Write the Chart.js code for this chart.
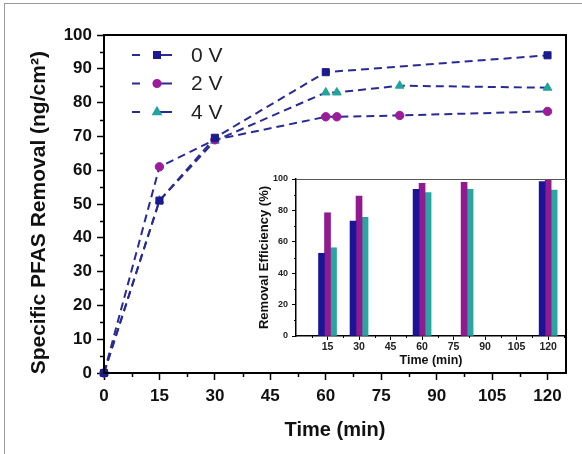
<!DOCTYPE html>
<html>
<head>
<meta charset="utf-8">
<script src="https://cdn.jsdelivr.net/npm/chart.js@4"></script>
<style>
  html, body { margin: 0; padding: 0; background: #fff; }
  #wrap { position: relative; width: 582px; height: 454px; overflow: hidden; }
  #edge { position: absolute; left: 4px; top: 3px; width: 600px; height: 460px;
          border-left: 1px solid #9a9a9a; border-top: 1px solid #9a9a9a; }
  #main { position: absolute; left: 0; top: 0; }
  #inset { position: absolute; left: 250px; top: 165px; }
</style>
</head>
<body>
<div id="wrap">
  <div id="edge"></div>
  <canvas id="main" width="582" height="454"></canvas>
  <canvas id="inset" width="318" height="207"></canvas>
</div>
<script>
// ---- Specific PFAS removal (ng/cm²) versus time (min) ----
const times0V = [0, 15, 30, 60, 120];
const removal0V = [0, 51, 69.6, 89, 94];
const times2V = [0, 15, 30, 60, 63, 80, 120];
const removal2V = [0, 61, 69, 75.8, 75.8, 76.2, 77.4];
const times4V = [0, 15, 30, 60, 63, 80, 120];
const removal4V = [0, 51, 68.7, 83, 83, 85, 84.4];
const seriesLabels = ['0 V', '2 V', '4 V'];

const xTickValues = [0, 15, 30, 45, 60, 75, 90, 105, 120];
const xMinorValues = [7.5, 22.5, 37.5, 52.5, 67.5, 82.5, 97.5, 112.5];
const yTickValues = [0, 10, 20, 30, 40, 50, 60, 70, 80, 90, 100];
const yMinorValues = [5, 15, 25, 35, 45, 55, 65, 75, 85, 95];

// ---- Removal efficiency (%) inset ----
const effTimes = [15, 30, 60, 80, 120];
const eff0V = [52.7, 73.2, 93.4, null, 98.3];
const eff2V = [78.5, 89.2, 97.2, 97.9, 99.8];
const eff4V = [56.2, 75.6, 91.3, 93.4, 93];
const insetXTickValues = [15, 30, 45, 60, 75, 90, 105, 120];
const insetXMinorValues = [7.5, 22.5, 37.5, 52.5, 67.5, 82.5, 97.5, 112.5, 127.5];
const insetYTickValues = [0, 20, 40, 60, 80, 100];
const insetYMinorValues = [10, 30, 50, 70, 90];

const LINE = '#2a2a94';
const NAVY = '#1b1b8e';
const PURPLE = '#9c1c9a';
const TEAL = '#22a49e';
const FONT = '"Liberation Sans", Arial, sans-serif';

const pts = (xs, ys) => xs.map((x, i) => ({ x, y: ys[i] }));
const fixedTicks = values => scale => { scale.ticks = values.map(v => ({ value: v })); };

// small unlabelled ticks between the major ones
const minorTicks = {
  id: 'minorTicks',
  afterDraw(chart, args, opts) {
    const { ctx, scales: { x, y } } = chart;
    ctx.save();
    ctx.strokeStyle = '#000';
    ctx.lineWidth = opts.width;
    ctx.beginPath();
    (opts.x || []).forEach(v => {
      const px = Math.round(x.getPixelForValue(v)) + 0.5;
      ctx.moveTo(px, x.top); ctx.lineTo(px, x.top + opts.length);
    });
    (opts.y || []).forEach(v => {
      const py = Math.round(y.getPixelForValue(v)) + 0.5;
      ctx.moveTo(y.right, py); ctx.lineTo(y.right - opts.length, py);
    });
    ctx.stroke();
    ctx.restore();
  }
};

// closed frame around the plotting area
const frame = {
  id: 'frame',
  afterDraw(chart, args, opts) {
    const { ctx, chartArea: a } = chart;
    ctx.save();
    ctx.lineWidth = opts.width;
    if (opts.box) {
      ctx.strokeStyle = '#000';
      ctx.strokeRect(a.left, a.top, a.right - a.left, a.bottom - a.top);
    } else {
      ctx.strokeStyle = opts.topColor;
      ctx.beginPath();
      ctx.moveTo(a.left, a.top + 0.5); ctx.lineTo(a.right, a.top + 0.5);
      ctx.stroke();
    }
    ctx.restore();
  }
};

// legend entries: dash, marker, dash, label
const lineLegend = {
  id: 'lineLegend',
  afterDraw(chart, args, opts) {
    const { ctx, chartArea: a } = chart;
    ctx.save();
    chart.data.datasets.forEach((ds, i) => {
      const y = a.top + opts.top + i * opts.rowGap;
      const x0 = a.left + opts.left;
      ctx.strokeStyle = ds.borderColor;
      ctx.lineWidth = 2;
      ctx.setLineDash([]);
      ctx.beginPath();
      ctx.moveTo(x0, y); ctx.lineTo(x0 + 8, y);
      ctx.moveTo(x0 + 28, y); ctx.lineTo(x0 + 40, y);
      ctx.stroke();
      ctx.fillStyle = ds.pointBackgroundColor;
      ctx.strokeStyle = ds.pointBackgroundColor;
      Chart.helpers.drawPoint(ctx, {
        pointStyle: ds.pointStyle, radius: ds.pointRadius * 0.85, rotation: 0, borderWidth: 1
      }, x0 + 25, y);
      ctx.fillStyle = '#222';
      ctx.font = '21px ' + FONT;
      ctx.textBaseline = 'middle';
      ctx.fillText(ds.label, x0 + 59, y + 1);
    });
    ctx.restore();
  }
};

const mainChart = new Chart(document.getElementById('main'), {
  type: 'line',
  data: {
    datasets: [
      { label: seriesLabels[0], data: pts(times0V, removal0V), pointStyle: 'rect', pointRadius: 5,
        pointBackgroundColor: NAVY, pointBorderColor: NAVY },
      { label: seriesLabels[1], data: pts(times2V, removal2V), pointStyle: 'circle', pointRadius: 4.2,
        pointBackgroundColor: PURPLE, pointBorderColor: PURPLE },
      { label: seriesLabels[2], data: pts(times4V, removal4V), pointStyle: 'triangle', pointRadius: 5,
        pointBackgroundColor: TEAL, pointBorderColor: TEAL }
    ].map(d => Object.assign({
      borderColor: LINE, borderWidth: 2, borderDash: [8, 5], tension: 0, fill: false,
      pointBorderWidth: 1, clip: 6
    }, d))
  },
  options: {
    responsive: false,
    animation: false,
    devicePixelRatio: 1,
    layout: { padding: { left: 0, top: 35, right: 16, bottom: 0 } },
    plugins: {
      legend: { display: false },
      tooltip: { enabled: false },
      minorTicks: { x: xMinorValues, y: yMinorValues, length: 4, width: 1.5 },
      frame: { box: true, width: 2 },
      lineLegend: { left: 28, top: 20, rowGap: 28.5 }
    },
    scales: {
      x: {
        type: 'linear', min: 0, max: 125,
        afterBuildTicks: fixedTicks(xTickValues),
        afterFit: s => { s.height = 81; },
        grid: { drawOnChartArea: false, tickLength: 7, tickColor: '#000', tickWidth: 1.5 },
        border: { color: '#000', width: 2 },
        ticks: { color: '#111', padding: 6, maxRotation: 0, autoSkip: false,
                 font: { family: FONT, size: 17, weight: 'bold' } },
        title: { display: true, text: 'Time (min)', color: '#111',
                 font: { family: FONT, size: 20, weight: 'bold' }, padding: { top: 0, bottom: 12 } }
      },
      y: {
        type: 'linear', min: 0, max: 100,
        afterBuildTicks: fixedTicks(yTickValues),
        afterFit: s => { s.width = 104; },
        grid: { drawOnChartArea: false, tickLength: 7, tickColor: '#000', tickWidth: 1.5 },
        border: { color: '#000', width: 2 },
        ticks: { color: '#111', padding: 5, autoSkip: false,
                 font: { family: FONT, size: 17, weight: 'bold' } },
        title: { display: true, text: 'Specific PFAS Removal (ng/cm²)\u00a0\u00a0\u00a0', color: '#111',
                 font: { family: FONT, size: 21, weight: 'bold' }, padding: { top: 27, bottom: 0 } }
      }
    }
  },
  plugins: [minorTicks, frame, lineLegend]
});

const insetChart = new Chart(document.getElementById('inset'), {
  type: 'bar',
  data: {
    datasets: [
      { label: seriesLabels[0], data: pts(effTimes, eff0V), backgroundColor: '#1c1497' },
      { label: seriesLabels[1], data: pts(effTimes, eff2V), backgroundColor: '#921a90' },
      { label: seriesLabels[2], data: pts(effTimes, eff4V), backgroundColor: '#2aa6a2' }
    ].map(d => Object.assign({ barThickness: 6, borderWidth: 0 }, d))
  },
  options: {
    responsive: false,
    animation: false,
    devicePixelRatio: 1,
    layout: { padding: { left: 0, top: 14, right: 2, bottom: 0 } },
    plugins: {
      legend: { display: false },
      tooltip: { enabled: false },
      minorTicks: { x: insetXMinorValues, y: insetYMinorValues, length: 2, width: 1 },
      frame: { box: false, width: 1, topColor: '#555' }
    },
    scales: {
      x: {
        type: 'linear', min: 0, max: 128.5, offset: false,
        afterBuildTicks: fixedTicks(insetXTickValues),
        afterFit: s => { s.height = 36; },
        grid: { drawOnChartArea: false, tickLength: 4, tickColor: '#000', tickWidth: 1, offset: false },
        border: { color: '#000', width: 1.5 },
        ticks: { color: '#222', padding: 1, maxRotation: 0, autoSkip: false,
                 font: { family: FONT, size: 10.5, weight: 'bold' } },
        title: { display: true, text: 'Time (min)', color: '#111',
                 font: { family: FONT, size: 12.5, weight: 'bold' }, padding: { top: 0, bottom: 3.5 } }
      },
      y: {
        type: 'linear', min: 0, max: 100,
        afterBuildTicks: fixedTicks(insetYTickValues),
        afterFit: s => { s.width = 46; },
        grid: { drawOnChartArea: false, tickLength: 4, tickColor: '#000', tickWidth: 1 },
        border: { color: '#000', width: 1.5 },
        ticks: { color: '#222', padding: 4, autoSkip: false,
                 font: { family: FONT, size: 9, weight: 'bold' } },
        title: { display: true, text: 'Removal Efficiency (%)', color: '#111',
                 font: { family: FONT, size: 13, weight: 'bold' }, padding: { top: 7, bottom: 0 } }
      }
    }
  },
  plugins: [minorTicks, frame]
});
</script>
</body>
</html>
